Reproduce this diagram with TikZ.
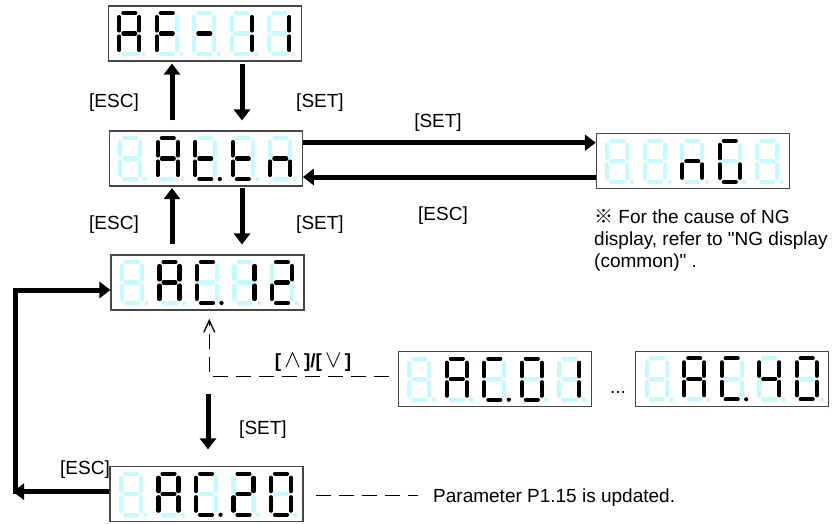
\documentclass[tikz,border=0pt]{standalone}
\usepackage{fontspec}
\setmainfont{Liberation Sans}
\newfontfamily\cjkfont{Noto Sans CJK JP}
\usetikzlibrary{arrows.meta,calc}
\newcommand\sq{\XeTeXglyph\XeTeXcharglyph"22\relax}
\definecolor{segcyan}{RGB}{195,250,255}
\definecolor{boxgray}{RGB}{70,70,70}
\tikzset{
  segoff/.style={color=segcyan, line width=4.1pt, line cap=round},
  segon/.style={color=black, line width=4.1pt, line cap=round},
  dispbox/.style={draw=boxgray, line width=1.1pt, minimum width=193pt, minimum height=55pt, inner sep=0pt, fill=white},
  lbl/.style={font=\fontsize{19}{21.8}\selectfont, inner sep=0pt},
  bigarrow/.style={line width=5pt, -{Triangle[length=11pt,width=16pt]}},
  dashline/.style={line width=1.3pt, dash pattern=on 15pt off 8pt},
}
\newcommand\sga[1]{\draw[#1] (6,2) -- (18,2);}
\newcommand\sgb[1]{\draw[#1] (22,6) -- (22,19.5);}
\newcommand\sgc[1]{\draw[#1] (22,25.5) -- (22,39);}
\newcommand\sgd[1]{\draw[#1] (6,43) -- (18,43);}
\newcommand\sge[1]{\draw[#1] (2,25.5) -- (2,39);}
\newcommand\sgf[1]{\draw[#1] (2,6) -- (2,19.5);}
\newcommand\sgg[1]{\draw[#1] (6,22.5) -- (18,22.5);}
\newcommand\sgp[1]{\fill[#1] (26.5,43) circle[radius=2.1];}
\newcommand\sgz[1]{}
\newcommand\sevseg[3]{%
  \begin{scope}[shift={(#1,#2)}]
    \foreach \s in {a,b,c,d,e,f,g,p}{\csname sg\s\endcsname{segoff}}
    \foreach \s in {#3}{\csname sg\s\endcsname{segon}}
  \end{scope}}
\newcommand\segdisplay[8]{%
  \node[dispbox] (#1) at (#2,#3) {};
  \sevseg{#2-87.5}{#3-22.5}{#4}
  \sevseg{#2-50}{#3-22.5}{#5}
  \sevseg{#2-12.5}{#3-22.5}{#6}
  \sevseg{#2+25}{#3-22.5}{#7}
  \sevseg{#2+62.5}{#3-22.5}{#8}}
\begin{document}
\begin{tikzpicture}[x=1pt,y=-1pt]
\useasboundingbox (0,0) rectangle (840,523);
% displays
\segdisplay{AF}{204.8}{33.5}{a,b,c,e,f,g}{a,e,f,g}{g}{b,c}{b,c}
\segdisplay{AT}{205.8}{158.5}{z}{a,b,c,e,f,g}{d,e,f,g,p}{d,e,f,g}{c,e,g}
\segdisplay{NG}{692.8}{161.3}{z}{z}{c,e,g}{a,c,d,e,f}{z}
\segdisplay{AC12}{207.5}{282.5}{z}{a,b,c,e,f,g}{a,d,e,f,p}{b,c}{a,b,d,e,g}
\segdisplay{AC01}{494.8}{379.2}{z}{a,b,c,e,f,g}{a,d,e,f,p}{a,b,c,d,e,f}{b,c}
\segdisplay{AC40}{732.2}{378.8}{z}{a,b,c,e,f,g}{a,d,e,f,p}{b,c,f,g}{a,b,c,d,e,f}
\segdisplay{AC20}{206.5}{494.2}{z}{a,b,c,e,f,g}{a,d,e,f,p}{a,b,d,e,g}{a,b,c,d,e,f}
% vertical arrows
\draw[bigarrow] ($(AT.north)+(-33.8,-10)$) -- ($(AF.south)+(-32.8,2)$);
\draw[bigarrow] ($(AF.south)+(37.2,2)$) -- ($(AT.north)+(36.2,-10)$);
\draw[bigarrow] ($(AC12.north)+(-35.5,-10)$) -- ($(AT.south)+(-33.8,1.5)$);
\draw[bigarrow] ($(AT.south)+(36.2,1.5)$) -- ($(AC12.north)+(34.5,-10)$);
% horizontal arrows to NG
\draw[bigarrow] ($(AT.east)+(0,-15.8)$) -- ($(NG.west)+(0,-18.6)$);
\draw[bigarrow] ($(NG.west)+(0,15.7)$) -- ($(AT.east)+(0,18.5)$);
% left loop
\coordinate (lc) at (13,491.7);
\draw[bigarrow] ($(AC20.west)+(0,-2.5)$) -- (lc);
\draw[line width=5pt, line join=miter, -{Triangle[length=11pt,width=16pt]}] (15.5,494.2) |- ($(AC12.west)+(0,7.5)$);
% set arrow AC12 -> AC20
\draw[bigarrow] ($(AC12.south)+(0.5,83)$) -- ($(AC20.north)+(1.5,-16.7)$);
% dashed selection connector
\draw[dashline, -{Straight Barb[length=12pt,width=11pt]}] ($(AC01.west)+(-9,-2.5)$) -| ($(AC12.south)+(1.8,8.3)$);
% labels
\node[lbl, anchor=base] (l1) at (114,107.5) {[ESC]};
\node[lbl, anchor=base] (l2) at (320,107.5) {[SET]};
\node[lbl, anchor=base] (l3) at (114,229) {[ESC]};
\node[lbl, anchor=base] (l4) at (320,229) {[SET]};
\node[lbl, anchor=base] (l5) at (438,127) {[SET]};
\node[lbl, anchor=base] (l6) at (443,220) {[ESC]};
\node[lbl, anchor=base] (l7) at (313,367.5) {\bfseries[\,{\fontsize{23}{23}\selectfont$\wedge$}\,]/[\,{\fontsize{23}{23}\selectfont$\vee$}\,]};
\node[lbl, anchor=base] (l8) at (263,434) {[SET]};
\node[lbl, anchor=base] (l9) at (85,474) {[ESC]};
\node[lbl, anchor=base] (dots) at (618,393) {...};
\node[lbl, anchor=base west] (n1) at (594,223) {{\cjkfont ※} For the cause of NG};
\node[lbl, anchor=base west] (n2) at (594,245) {display, refer to \sq NG display};
\node[lbl, anchor=base west] (n3) at (594,267) {(common)\sq\ .};
\node[lbl, anchor=base west] (upd) at (433,502) {Parameter P1.15 is updated.};
\draw[dashline] ($(AC20.east)+(12,1.5)$) -- ($(AC20.east -| upd.west)+(-15,1.5)$);
\end{tikzpicture}
\end{document}
